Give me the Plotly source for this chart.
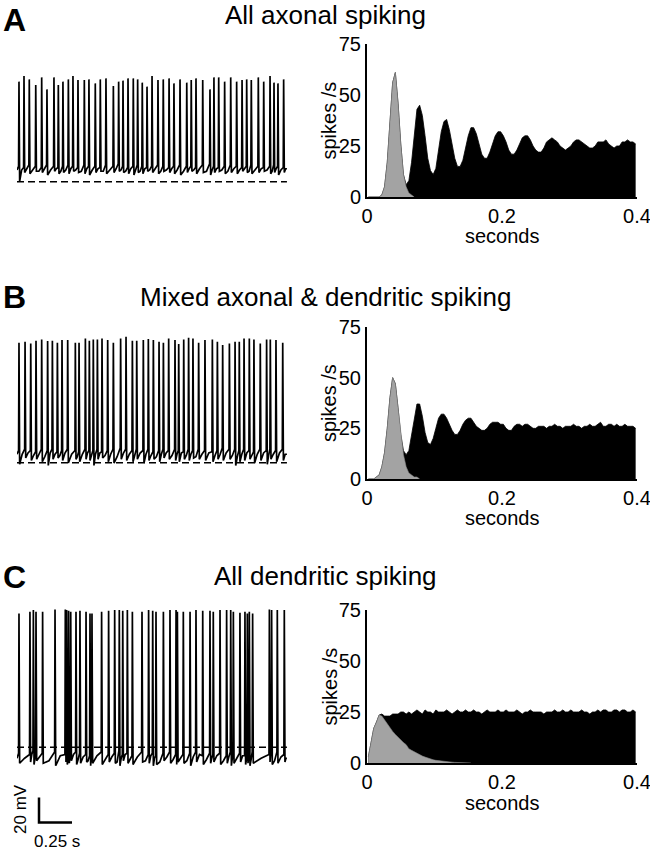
import plotly.graph_objects as go

W, H = 650, 853
FONT = "Liberation Sans, Arial, sans-serif"

# ---------------- voltage traces: spike times (s), peak, pre-spike, AHP and inter-spike mV ----------------
a_times = [0.015, 0.053, 0.093, 0.142, 0.187, 0.227, 0.280, 0.313, 0.348, 0.389,
           0.424, 0.462, 0.510, 0.545, 0.593, 0.631, 0.674, 0.730, 0.770, 0.803,
           0.841, 0.881, 0.914, 0.949, 0.985, 1.023, 1.068, 1.108, 1.152, 1.189,
           1.235, 1.286, 1.320, 1.356, 1.407, 1.462, 1.492, 1.528, 1.573, 1.619,
           1.664, 1.705, 1.740, 1.775, 1.828, 1.869, 1.917, 1.947, 1.977, 2.020]
a_peaks = [5.7, 10.2, 7.5, 3, 9.1, -0.5, 9.1, 3, 5.7, 7.5,
           10.2, 7, 7, 7.5, 4.3, 7.5, 8.3, 2.2, 5.7, 6.5,
           8.3, 8.3, 7.5, 4.9, 1.7, 10.2, 7, 7.5, 8.3, 4.3,
           7.5, 4.9, 7, 8.3, 7, -0.5, 9.1, 9.1, 5.7, 9.1,
           5.7, 7, 7.5, 7, 9.1, 5.7, 10.2, 4.9, 4.3, 7.5]
a_pre = [-62, -63, -61, -62, -63, -61, -62, -63, -62, -61, -62, -63, -61, -62, -62, -63, -61,
         -62, -60, -62, -63, -62, -61, -62, -63, -62, -61, -62, -63, -62, -61, -62, -62, -63,
         -61, -60, -62, -63, -62, -61, -62, -63, -62, -61, -62, -63, -62, -61, -62, -63]
a_ahp = [-74, -67, -68, -66, -67, -69, -66, -68, -67, -68, -66, -67, -68, -69, -67, -66, -68,
         -67, -66, -67, -68, -69, -67, -68, -66, -67, -68, -66, -67, -68, -69, -67, -66, -68,
         -67, -69, -67, -66, -68, -67, -68, -66, -67, -68, -67, -66, -68, -67, -69, -67]
a_mid = [-65, -64, -65, -66, -64, -65, -64, -66, -65, -64, -65, -66, -64, -65, -64, -66, -65,
         -64, -65, -66, -64, -65, -66, -64, -65, -64, -66, -65, -64, -65, -66, -64, -65, -64,
         -66, -65, -64, -65, -66, -64, -65, -64, -66, -65, -64, -65, -66, -64, -65, -64]
a_dash = -74.4

b_times = [0.015, 0.061, 0.104, 0.144, 0.187, 0.232, 0.268, 0.306, 0.341, 0.384,
           0.442, 0.470, 0.518, 0.548, 0.578, 0.609, 0.644, 0.687, 0.730, 0.785,
           0.826, 0.874, 0.907, 0.957, 0.995, 1.033, 1.076, 1.109, 1.149, 1.197,
           1.225, 1.263, 1.300, 1.333, 1.376, 1.424, 1.480, 1.518, 1.558, 1.609,
           1.652, 1.684, 1.720, 1.760, 1.795, 1.843, 1.891, 1.919, 1.962, 2.013]
b_peaks = [23.3, 24.1, 22.7, 24.9, 25.9, 24.6, 24.9, 23.3, 25.4, 25.4,
           23.3, 23.3, 26.7, 24.9, 25.9, 25.9, 26.7, 25.4, 23.3, 26.7,
           28.1, 24.9, 24.9, 25.4, 26.2, 25.4, 24.1, 23.3, 26.7, 25.4,
           22.2, 25.9, 27.3, 26.7, 23.3, 25.4, 25.9, 24.1, 21.4, 22.7,
           24.1, 24.1, 26.7, 26.7, 25.9, 22.7, 25.9, 25.9, 25.4, 23.3]
b_pre = [-63, -62, -63, -64, -62, -63, -62, -64, -63, -62, -63, -64, -62, -63, -63, -62, -64,
         -63, -62, -61, -62, -63, -62, -63, -62, -64, -63, -62, -63, -62, -63, -64, -62, -63,
         -62, -63, -64, -63, -61, -62, -62, -63, -62, -63, -64, -62, -63, -62, -63, -62]
b_ahp = [-74, -69, -71, -70, -72, -75, -70, -69, -71, -73, -70, -72, -70, -71, -75, -70, -69,
         -72, -73, -70, -71, -72, -70, -73, -71, -70, -72, -69, -70, -71, -72, -70, -71, -69,
         -70, -71, -72, -70, -71, -70, -75, -72, -71, -70, -73, -71, -74, -70, -72, -71]
b_mid = [-66, -65, -67, -66, -68, -65, -66, -67, -65, -66, -68, -66, -65, -67, -66, -65, -67,
         -66, -68, -65, -66, -67, -65, -66, -67, -68, -66, -65, -67, -66, -65, -67, -66, -68,
         -66, -65, -67, -66, -65, -67, -68, -66, -65, -67, -66, -65, -67, -66, -65, -66]
b_dash = -72.8

c_times = [0.015, 0.098, 0.124, 0.144, 0.194, 0.288, 0.366, 0.376, 0.391, 0.407,
           0.447, 0.477, 0.523, 0.553, 0.568, 0.641, 0.694, 0.740, 0.775, 0.801,
           0.836, 0.874, 0.947, 0.997, 1.028, 1.053, 1.109, 1.159, 1.205, 1.215,
           1.260, 1.311, 1.356, 1.407, 1.462, 1.487, 1.538, 1.588, 1.619, 1.639,
           1.689, 1.727, 1.745, 1.760, 1.785, 1.912, 1.929, 1.972, 2.025]
c_peaks = [49.9, 51.3, 52.6, 51.3, 51.3, 53.1, 53.1, 52.6, 52.1, 51.3,
           51.3, 52.1, 51.3, 49.9, 49.9, 51.3, 52.1, 52.6, 52.6, 52.1,
           52.6, 51.3, 51.3, 52.6, 52.1, 51.3, 51.3, 52.6, 52.6, 51.3,
           51.3, 51.3, 52.6, 52.1, 52.1, 51.3, 52.6, 52.6, 52.6, 51.3,
           50.5, 51.3, 49.9, 51.3, 49.9, 53.1, 52.6, 52.6, 52.6]
c_pre = [-62, -63, -60, -64, -62, -61, -63, -62, -64, -63, -61, -62, -63, -64, -62, -61, -63,
         -62, -60, -63, -62, -64, -61, -63, -62, -64, -62, -61, -63, -62, -63, -62, -61, -64,
         -62, -63, -62, -64, -61, -63, -62, -64, -63, -62, -61, -63, -62, -61, -63]
c_ahp = [-70, -69, -71, -68, -70, -72, -69, -71, -70, -68, -71, -70, -69, -72, -70, -71, -69,
         -70, -72, -68, -70, -71, -69, -70, -72, -71, -68, -70, -71, -69, -70, -72, -69, -71,
         -70, -69, -71, -70, -72, -70, -69, -71, -70, -72, -70, -69, -71, -70, -69]
c_mid = [-66, -63, -67, -65, -68, -64, -66, -69, -65, -63, -67, -65, -68, -66, -64, -67, -65,
         -69, -66, -63, -67, -65, -68, -64, -66, -69, -65, -67, -64, -66, -68, -65, -63, -67,
         -66, -64, -68, -65, -67, -66, -64, -68, -65, -67, -66, -63, -68, -65, -66]
c_dash = -57.2

trace_len = 2.045
scalebar_mv = 20
scalebar_s = 0.25

# ---------------- autocorrelograms, 4 ms bins from 0 to 0.4 s (spikes/s) ----------------
bin_w = 0.004
a_all = [0, 0, 0, 0, 0, 1, 5, 17, 37, 56, 61, 46, 26, 11, 6, 8, 17, 32, 43, 45,
         40, 30, 19, 13, 11, 14, 22, 32, 37, 38, 33, 26, 19, 15, 15, 18, 24, 30, 34, 34,
         31, 26, 21, 19, 19, 22, 26, 30, 32, 32, 30, 27, 23, 21, 21, 23, 26, 29, 30, 30,
         28, 25, 23, 22, 22, 24, 27, 28, 29, 28, 27, 25, 24, 23, 24, 25, 27, 28, 28, 27,
         26, 25, 24, 24, 25, 27, 27, 27, 28, 26, 25, 24, 25, 25, 27, 27, 28, 27, 27, 26]
a_first = [0, 0, 0, 0, 0, 1, 5, 17, 37, 56, 61, 46, 26, 11, 5, 2, 1, 0]

b_all = [0, 0, 0, 1, 2, 6, 13, 25, 40, 50, 47, 35, 22, 14, 12, 14, 22, 31, 37, 37,
         31, 23, 18, 17, 20, 25, 30, 32, 32, 30, 27, 24, 22, 22, 24, 27, 29, 30, 30, 28,
         26, 25, 24, 24, 25, 27, 28, 28, 28, 27, 27, 25, 24, 24, 26, 27, 27, 26, 27, 27,
         26, 25, 25, 26, 26, 26, 25, 26, 26, 27, 26, 26, 25, 26, 26, 26, 27, 26, 26, 25,
         26, 26, 27, 26, 26, 27, 28, 26, 26, 27, 27, 26, 27, 26, 26, 27, 26, 26, 26, 25]
b_first = [0, 0, 0, 1, 2, 6, 13, 25, 40, 50, 47, 35, 22, 12, 6, 3, 2, 1, 1, 0]

c_all = [3, 11, 17, 20, 23.5, 24, 23, 23, 23, 24, 24, 24, 25, 25, 24, 25, 24, 25, 26, 25,
         24, 26, 25, 25, 24, 26, 25, 25, 25, 26, 25, 24, 25, 26, 25, 25, 26, 25, 25, 26,
         25, 25, 24, 25, 26, 25, 25, 25, 26, 25, 25, 26, 25, 25, 25, 26, 25, 24, 25, 25,
         26, 25, 25, 25, 25, 24, 25, 25, 25, 26, 25, 25, 26, 25, 25, 26, 25, 25, 25, 26,
         25, 25, 24, 25, 25, 26, 25, 26, 26, 25, 25, 26, 26, 25, 26, 26, 25, 25, 26, 25]
c_first = [3, 11, 17, 20, 23.5, 23, 21, 19, 17, 15.5, 14, 12.5, 11, 10, 9, 7, 6.2, 5.4, 4.6, 4,
           3.4, 2.9, 2.4, 2, 1.6, 1.3, 1.1, 0.9, 0.7, 0.6, 0.5, 0.4, 0.3, 0.3, 0.2, 0.2, 0.1, 0.1, 0]

titles = ["All axonal spiking", "Mixed axonal & dendritic spiking", "All dendritic spiking"]
letters = ["A", "B", "C"]


def px(x):
    return x / W


def py(y):
    return 1 - y / H


def trace_xy(times, peaks, pre, ahp, mid):
    xs, ys = [0], [mid[0]]
    for k, t in enumerate(times):
        t_next = times[k + 1] - 0.003 if k + 1 < len(times) else trace_len
        xs += [t - 0.003, t, t + 0.005, (t + 0.005 + t_next) / 2]
        ys += [pre[k], peaks[k], ahp[k], mid[k]]
    xs.append(trace_len)
    ys.append(mid[-1])
    return xs, ys


def bin_centers(vals):
    return [bin_w * (k + 0.5) for k in range(len(vals))]


fig = go.Figure()

# pixel layout of each row: trace y-domain, trace mV range, histogram y-domain, text rows
rows = [
    dict(tr=(60, 195), rng=(-85, 23), hi=(44, 197), ty=15, ly=0, xl=236,
         tv=(a_times, a_peaks, a_pre, a_ahp, a_mid), dash=a_dash, h=(a_all, a_first)),
    dict(tr=(320, 475), rng=(-82.6, 41.4), hi=(327, 479), ty=297, ly=277, xl=518,
         tv=(b_times, b_peaks, b_pre, b_ahp, b_mid), dash=b_dash, h=(b_all, b_first)),
    dict(tr=(600, 830), rng=(-123.4, 60.6), hi=(610, 763), ty=576, ly=557, xl=803,
         tv=(c_times, c_peaks, c_pre, c_ahp, c_mid), dash=c_dash, h=(c_all, c_first)),
]

layout = {}
annotations = []
for i, r in enumerate(rows):
    ta = 2 * i + 1
    ha = 2 * i + 2
    tsuf = "" if ta == 1 else str(ta)
    hsuf = str(ha)

    xs, ys = trace_xy(*r["tv"])
    fig.add_trace(go.Scatter(x=xs, y=ys, mode="lines", line=dict(color="black", width=1.7),
                             xaxis="x" + tsuf, yaxis="y" + tsuf, showlegend=False,
                             hoverinfo="skip"))
    fig.add_trace(go.Scatter(x=[0, trace_len], y=[r["dash"], r["dash"]], mode="lines",
                             line=dict(color="black", width=1.6, dash="7px,4px"),
                             xaxis="x" + tsuf, yaxis="y" + tsuf, showlegend=False,
                             hoverinfo="skip"))

    # autocorrelogram: all intervals in black, first-order intervals in grey on top
    allv, first = r["h"]
    fig.add_trace(go.Scatter(x=bin_centers(allv), y=allv, mode="lines", fill="tozeroy",
                             fillcolor="black", line=dict(color="black", width=0.8),
                             xaxis="x" + hsuf, yaxis="y" + hsuf, showlegend=False))
    fig.add_trace(go.Scatter(x=bin_centers(first), y=first, mode="lines", fill="tozeroy",
                             fillcolor="#a3a3a3", line=dict(color="#8a8a8a", width=0.6),
                             xaxis="x" + hsuf, yaxis="y" + hsuf, showlegend=False))

    layout["xaxis" + tsuf] = dict(domain=[px(17), px(287)], range=[0, 270 / 132],
                                  visible=False, anchor="y" + tsuf, automargin=False)
    layout["yaxis" + tsuf] = dict(domain=[py(r["tr"][1]), py(r["tr"][0])], range=list(r["rng"]),
                                  visible=False, anchor="x" + tsuf, automargin=False)
    layout["xaxis" + hsuf] = dict(domain=[px(367), px(637)], range=[0, 0.4],
                                  anchor="y" + hsuf, tickvals=[0, 0.2, 0.4],
                                  ticktext=["0", "0.2", "0.4"], automargin=False,
                                  ticklabeloverflow="allow",
                                  showline=True, linecolor="black", linewidth=2,
                                  showgrid=False, zeroline=False, ticks="",
                                  tickfont=dict(size=20, color="black", family=FONT))
    layout["yaxis" + hsuf] = dict(domain=[py(r["hi"][1]), py(r["hi"][0])], range=[0, 75],
                                  anchor="x" + hsuf, tickvals=[0, 25, 50, 75],
                                  automargin=False, ticklabeloverflow="allow",
                                  showline=True, linecolor="black", linewidth=2,
                                  showgrid=False, zeroline=False, ticks="",
                                  tickfont=dict(size=20, color="black", family=FONT))

    annotations.append(dict(text=titles[i], x=0.5, y=py(r["ty"]), xref="paper", yref="paper",
                            showarrow=False, font=dict(size=26, color="black", family=FONT),
                            xanchor="center", yanchor="middle"))
    annotations.append(dict(text="<b>%s</b>" % letters[i], x=px(1), y=py(r["ly"]),
                            xref="paper", yref="paper", showarrow=False,
                            font=dict(size=32, color="black", family=FONT),
                            xanchor="left", yanchor="top"))
    annotations.append(dict(text="seconds", x=px(502), y=py(r["xl"]), xref="paper",
                            yref="paper", showarrow=False,
                            font=dict(size=20, color="black", family=FONT),
                            xanchor="center", yanchor="middle"))
    annotations.append(dict(text="spikes /s", x=px(329), y=py((r["hi"][0] + r["hi"][1]) / 2),
                            xref="paper", yref="paper", showarrow=False, textangle=-90,
                            font=dict(size=20, color="black", family=FONT),
                            xanchor="center", yanchor="middle"))

# scale bar on the C trace axes
sb_t0 = 22 / 132
sb_v0 = -117.4
fig.add_trace(go.Scatter(x=[sb_t0, sb_t0, sb_t0 + scalebar_s],
                         y=[sb_v0 + scalebar_mv, sb_v0, sb_v0], mode="lines",
                         line=dict(color="black", width=2.5), xaxis="x5", yaxis="y5",
                         showlegend=False, hoverinfo="skip"))
annotations.append(dict(text="%d mV" % scalebar_mv, x=px(20), y=py(809), xref="paper",
                        yref="paper", showarrow=False, textangle=-90,
                        xanchor="center", yanchor="middle",
                        font=dict(size=17, color="black", family=FONT)))
annotations.append(dict(text="%g s" % scalebar_s, x=px(57), y=py(841), xref="paper",
                        yref="paper", showarrow=False, xanchor="center", yanchor="middle",
                        font=dict(size=17, color="black", family=FONT)))

fig.update_layout(width=W, height=H, margin=dict(l=0, r=0, t=0, b=0, autoexpand=False),
                  paper_bgcolor="white", plot_bgcolor="white",
                  annotations=annotations, **layout)

fig.write_html("out.html", config={"displayModeBar": False},
               post_script="document.body.style.margin='0';")
